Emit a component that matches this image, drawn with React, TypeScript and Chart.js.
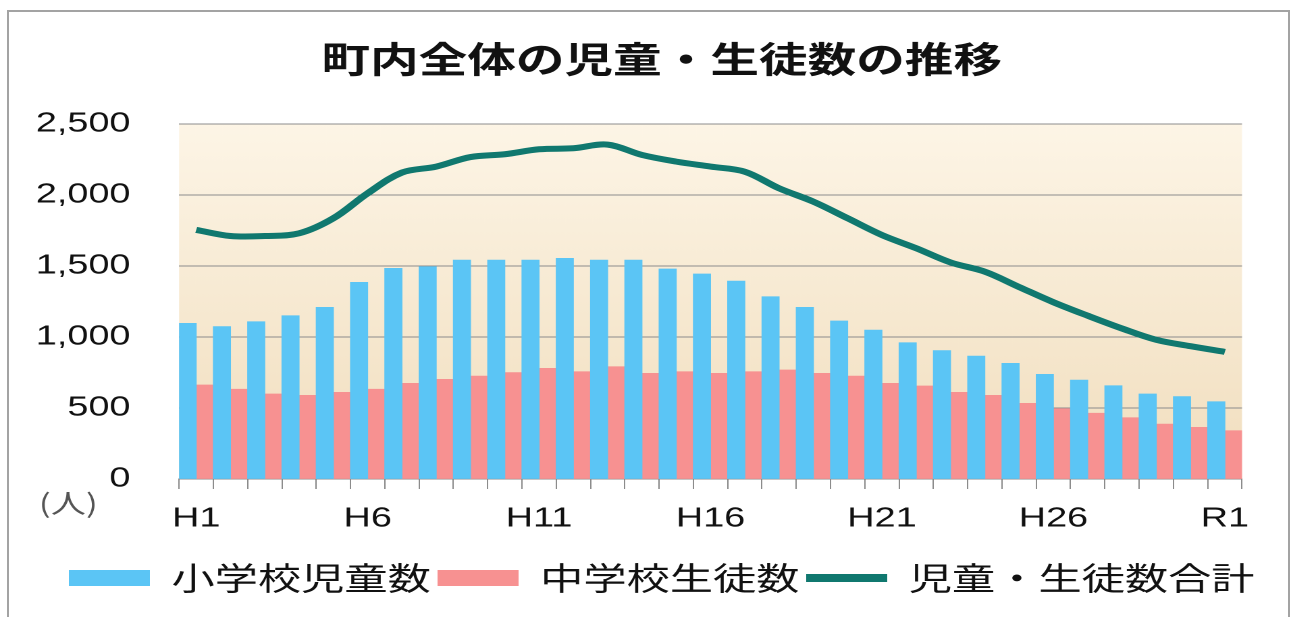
import React, { useEffect, useRef } from 'react';
import { Chart, registerables } from 'chart.js';

Chart.register(...registerables);

const categories = [
  'H1', 'H2', 'H3', 'H4', 'H5', 'H6', 'H7', 'H8', 'H9', 'H10',
  'H11', 'H12', 'H13', 'H14', 'H15', 'H16', 'H17', 'H18', 'H19', 'H20',
  'H21', 'H22', 'H23', 'H24', 'H25', 'H26', 'H27', 'H28', 'H29', 'H30', 'R1',
];
const shownLabels = ['H1', 'H6', 'H11', 'H16', 'H21', 'H26', 'R1'];

const elementary = [
  1096, 1073, 1108, 1150, 1209, 1385, 1484, 1495, 1542, 1542,
  1542, 1554, 1542, 1542, 1479, 1444, 1394, 1284, 1209, 1113,
  1049, 960, 904, 866, 815, 737, 697, 657, 599, 580, 544,
];
const juniorHigh = [
  662, 632, 599, 589, 610, 632, 674, 702, 725, 749,
  779, 756, 791, 744, 756, 744, 756, 768, 744, 725,
  674, 655, 610, 589, 533, 495, 463, 432, 387, 364, 340,
];
const totals = [
  1754, 1711, 1711, 1730, 1836, 2012, 2158, 2200, 2267, 2287,
  2322, 2329, 2355, 2282, 2235, 2200, 2164, 2047, 1953, 1836,
  1718, 1625, 1525, 1460, 1352, 1245, 1150, 1060, 980, 935, 895,
];

const seriesNames = ['小学校児童数', '中学校生徒数', '児童・生徒数合計'];
const titleText = '町内全体の児童・生徒数の推移';
const unitText = '(人)';
const yMin = 0;
const yMax = 2500;
const yStep = 500;

const INNER_W = 956;
const H = 617;
const SX = 1291 / INNER_W;

const CJK = "'Noto Sans CJK JP', sans-serif";
const LATIN = "'Liberation Sans', Arial, sans-serif";

export default function App() {
  const ref = useRef<HTMLCanvasElement | null>(null);

  useEffect(() => {
    if (!ref.current) return;

    const plotBg = {
      id: 'plotBg',
      beforeDraw(chart: any) {
        const { ctx, chartArea } = chart;
        const { left, top, right, bottom } = chartArea;
        const g = ctx.createLinearGradient(0, top, 0, bottom);
        g.addColorStop(0, '#fdf5e6');
        g.addColorStop(1, '#f1debe');
        ctx.save();
        ctx.fillStyle = g;
        ctx.fillRect(left, top, right - left, bottom - top);
        ctx.restore();
      },
    };

    const unitLabel = {
      id: 'unitLabel',
      afterDraw(chart: any) {
        const { ctx, chartArea } = chart;
        ctx.save();
        ctx.font = `26px ${CJK}`;
        ctx.fillStyle = '#555';
        ctx.textAlign = 'center';
        ctx.textBaseline = 'middle';
        ctx.fillText(unitText, chartArea.left - 82, chartArea.bottom + 24);
        ctx.restore();
      },
    };

    const chart = new Chart(ref.current, {
      type: 'bar',
      data: {
        labels: categories,
        datasets: [
          {
            label: seriesNames[0],
            data: elementary,
            backgroundColor: '#5bc5f5',
            borderWidth: 0,
            barPercentage: 1,
            categoryPercentage: 1,
            order: 2,
          },
          {
            label: seriesNames[1],
            data: juniorHigh,
            backgroundColor: '#f79191',
            borderWidth: 0,
            barPercentage: 1,
            categoryPercentage: 1,
            order: 2,
          },
          {
            type: 'line',
            label: seriesNames[2],
            data: totals,
            borderColor: '#10786f',
            backgroundColor: '#10786f',
            borderWidth: 6,
            pointRadius: 0,
            tension: 0.35,
            fill: false,
            order: 0,
          } as any,
        ],
      },
      options: {
        animation: false,
        responsive: true,
        maintainAspectRatio: false,
        devicePixelRatio: 2,
        layout: { padding: { left: 24, right: 0, top: 0, bottom: 13 } },
        plugins: {
          title: {
            display: true,
            text: titleText,
            color: '#111',
            font: { family: CJK, size: 36, weight: 'bold', lineHeight: 1.2 },
            padding: { top: 37, bottom: 43.8 },
          },
          legend: {
            display: true,
            position: 'bottom',
            labels: {
              usePointStyle: true,
              pointStyleWidth: 60,
              boxHeight: 16,
              padding: 5,
              color: '#111',
              font: { family: CJK, size: 32 },
              sort: (a: any, b: any) => a.datasetIndex - b.datasetIndex,
              generateLabels: (ch: any) =>
                ch.data.datasets.map((ds: any, i: number) => ({
                  text: ds.label,
                  fillStyle: i === 2 ? ds.borderColor : ds.backgroundColor,
                  strokeStyle: i === 2 ? ds.borderColor : ds.backgroundColor,
                  lineWidth: i === 2 ? 8 : 0,
                  pointStyle: i === 2 ? 'line' : 'rect',
                  hidden: false,
                  datasetIndex: i,
                  fontColor: '#111',
                })),
            },
          },
          tooltip: { enabled: false },
        },
        scales: {
          x: {
            offset: true,
            grid: {
              display: true,
              offset: true,
              drawOnChartArea: false,
              drawTicks: true,
              tickLength: 10,
              color: '#8c8c8c',
            },
            border: { display: true, color: '#8c8c8c', width: 1 },
            ticks: {
              autoSkip: false,
              maxRotation: 0,
              minRotation: 0,
              padding: 13,
              color: '#111',
              font: { family: LATIN, size: 28 },
              callback: (_v: any, i: number) =>
                shownLabels.includes(categories[i]) ? categories[i] : '',
            },
            afterFit: (s: any) => {
              s.height = 78;
            },
          },
          y: {
            min: yMin,
            max: yMax,
            ticks: {
              stepSize: yStep,
              padding: 36,
              color: '#111',
              font: { family: LATIN, size: 28 },
            },
            grid: { color: '#8c8c8c', lineWidth: 1, drawTicks: false },
            border: { display: false },
            afterFit: (s: any) => {
              s.width = 108.6;
            },
          },
          y2: {
            position: 'right',
            display: true,
            grid: { display: false, drawTicks: false },
            border: { display: false },
            ticks: { display: false },
            afterFit: (s: any) => {
              s.width = 36.3;
            },
          },
        },
      },
      plugins: [plotBg, unitLabel],
    } as any);

    return () => chart.destroy();
  }, []);

  return (
    <div>
      <div
        style={{
          position: 'fixed',
          left: 7,
          top: 10,
          width: 1283,
          height: 700,
          border: '2px solid #a3a3a3',
          boxSizing: 'border-box',
        }}
      />
      <div
        style={{
          position: 'fixed',
          left: 0,
          top: 0,
          width: INNER_W,
          height: H,
          transform: `scaleX(${SX})`,
          transformOrigin: '0 0',
        }}
      >
        <canvas ref={ref} />
      </div>
    </div>
  );
}
